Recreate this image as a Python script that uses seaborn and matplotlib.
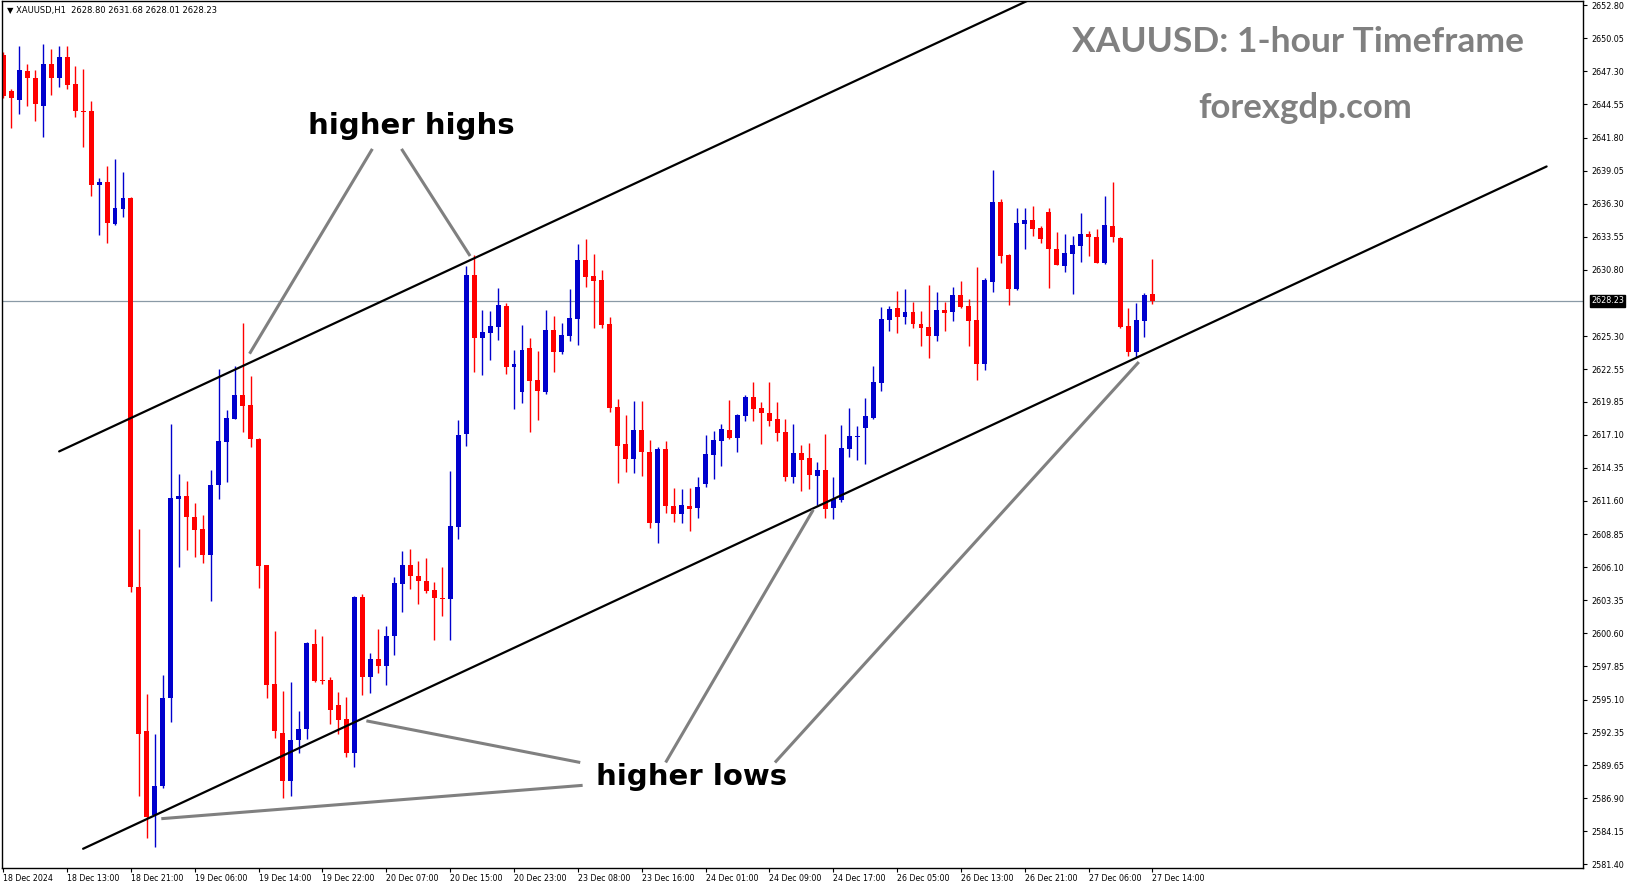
import matplotlib
matplotlib.use("Agg")
import matplotlib.pyplot as plt
import matplotlib.transforms as mtransforms
import numpy as np
import pandas as pd
import seaborn as sns

# XAUUSD H1 candles
open_ = [2648.70, 2645.63, 2644.96, 2647.30, 2646.72, 2644.46, 2647.89, 2646.72, 2648.48, 2646.22,
         2644.05, 2644.01, 2637.87, 2638.14, 2634.66, 2635.88, 2636.74, 2604.45, 2592.48, 2585.49,
         2587.93, 2595.21, 2611.80, 2611.98, 2610.31, 2609.24, 2607.10, 2612.93, 2616.50, 2618.43,
         2620.39, 2619.56, 2616.76, 2606.24, 2596.43, 2592.33, 2588.37, 2591.73, 2592.62, 2599.72,
         2596.70, 2596.70, 2594.62, 2593.51, 2590.64, 2603.62, 2596.95, 2598.45, 2597.91, 2600.36,
         2604.67, 2606.26, 2605.37, 2604.92, 2604.19, 2603.58, 2603.49, 2609.45, 2617.16, 2630.38,
         2625.11, 2625.59, 2626.08, 2627.80, 2622.76, 2620.68, 2624.31, 2621.65, 2620.68, 2625.81,
         2624.01, 2625.34, 2626.75, 2631.62, 2630.30, 2629.96, 2626.31, 2619.38, 2616.33, 2615.06,
         2617.50, 2615.67, 2609.80, 2615.92, 2611.21, 2610.49, 2611.18, 2611.04, 2613.01, 2615.45,
         2616.61, 2617.50, 2616.86, 2618.69, 2620.24, 2619.33, 2618.94, 2618.41, 2617.33, 2613.62,
         2615.61, 2615.17, 2613.70, 2614.17, 2611.04, 2611.71, 2615.89, 2616.89, 2617.69, 2618.52,
         2621.43, 2626.64, 2627.61, 2626.91, 2627.30, 2626.31, 2626.03, 2625.34, 2627.47, 2627.33,
         2628.71, 2627.80, 2626.64, 2622.98, 2629.82, 2636.44, 2632.04, 2629.24, 2634.64, 2634.95,
         2634.28, 2635.61, 2632.54, 2631.15, 2632.12, 2632.82, 2633.78, 2633.51, 2631.40, 2634.45,
         2633.45, 2626.17, 2624.01, 2626.58, 2628.80]
high = [2648.93, 2645.86, 2649.38, 2647.89, 2647.40, 2649.56, 2649.16, 2649.38, 2649.38, 2647.71,
        2647.49, 2644.82, 2638.41, 2639.45, 2640.00, 2638.91, 2636.83, 2609.28, 2595.60, 2592.27,
        2597.17, 2618.04, 2613.88, 2613.23, 2611.44, 2610.40, 2614.15, 2622.59, 2619.17, 2622.80,
        2626.40, 2622.00, 2616.80, 2606.30, 2600.83, 2595.84, 2596.58, 2594.17, 2599.91, 2601.00,
        2600.36, 2596.95, 2595.74, 2595.33, 2603.71, 2603.87, 2598.99, 2601.00, 2601.22, 2605.30,
        2607.47, 2607.60, 2606.58, 2606.83, 2604.83, 2606.10, 2614.07, 2618.37, 2631.15, 2632.04,
        2627.47, 2627.39, 2629.30, 2628.02, 2624.15, 2626.22, 2625.17, 2624.06, 2627.47, 2626.97,
        2626.42, 2629.21, 2632.95, 2633.37, 2632.12, 2630.79, 2626.86, 2620.07, 2618.74, 2619.91,
        2619.91, 2616.67, 2616.06, 2616.58, 2612.68, 2612.59, 2612.68, 2613.62, 2617.08, 2617.44,
        2617.99, 2619.99, 2618.80, 2620.41, 2621.49, 2619.83, 2621.49, 2619.83, 2618.41, 2618.00,
        2616.25, 2616.45, 2614.87, 2617.16, 2613.59, 2617.94, 2619.35, 2617.86, 2620.18, 2622.81,
        2627.75, 2627.83, 2629.05, 2629.21, 2628.16, 2627.39, 2629.55, 2628.94, 2628.14, 2629.38,
        2629.88, 2628.38, 2631.04, 2630.13, 2639.10, 2636.69, 2632.12, 2635.92, 2635.92, 2636.11,
        2634.45, 2635.92, 2633.95, 2633.78, 2633.62, 2635.56, 2634.06, 2634.20, 2636.97, 2638.13,
        2633.50, 2627.66, 2628.05, 2628.91, 2631.68]
low = [2645.09, 2642.61, 2643.74, 2644.41, 2643.20, 2641.89, 2645.36, 2646.04, 2645.86, 2643.47,
       2641.03, 2636.96, 2633.67, 2633.03, 2634.57, 2635.16, 2604.00, 2587.06, 2583.56, 2582.81,
       2587.72, 2593.22, 2606.15, 2607.49, 2606.95, 2606.45, 2603.27, 2611.77, 2613.14, 2618.43,
       2617.30, 2616.11, 2604.37, 2595.24, 2591.88, 2586.89, 2587.10, 2590.69, 2591.79, 2596.53,
       2596.38, 2593.03, 2592.23, 2590.32, 2589.46, 2595.49, 2595.68, 2597.33, 2596.31, 2598.83,
       2602.37, 2604.28, 2603.07, 2603.96, 2600.04, 2602.05, 2600.04, 2608.43, 2616.21, 2622.35,
       2622.07, 2623.31, 2624.98, 2622.15, 2619.27, 2619.77, 2617.30, 2618.33, 2620.46, 2622.35,
       2623.81, 2624.92, 2624.56, 2629.41, 2626.00, 2625.95, 2619.02, 2613.07, 2614.04, 2613.95,
       2613.70, 2609.38, 2608.13, 2610.63, 2609.88, 2609.74, 2609.13, 2610.21, 2612.79, 2613.45,
       2614.53, 2616.72, 2615.70, 2618.27, 2618.27, 2616.36, 2617.86, 2616.61, 2613.29, 2613.12,
       2612.46, 2612.59, 2611.26, 2610.21, 2610.13, 2611.54, 2615.22, 2615.00, 2614.67, 2618.45,
       2620.77, 2625.72, 2625.59, 2626.31, 2625.97, 2624.50, 2623.51, 2624.92, 2625.72, 2626.58,
       2627.66, 2624.48, 2621.65, 2622.48, 2628.99, 2631.40, 2627.88, 2629.13, 2632.57, 2633.62,
       2633.04, 2629.33, 2631.20, 2630.65, 2628.80, 2631.49, 2631.98, 2631.35, 2631.32, 2633.15,
       2626.00, 2623.67, 2623.59, 2625.25, 2628.01]
close = [2645.23, 2645.05, 2647.40, 2646.72, 2644.55, 2647.89, 2646.72, 2648.48, 2646.18, 2644.05,
         2643.96, 2637.87, 2638.14, 2634.71, 2635.92, 2636.74, 2604.45, 2592.26, 2585.34, 2587.93,
         2595.21, 2611.86, 2611.98, 2610.25, 2609.18, 2607.10, 2612.90, 2616.56, 2618.49, 2620.39,
         2619.50, 2616.76, 2606.18, 2596.34, 2592.45, 2588.37, 2591.73, 2592.68, 2599.76, 2596.63,
         2596.63, 2594.21, 2593.41, 2590.64, 2603.62, 2596.95, 2598.45, 2597.91, 2600.36, 2604.79,
         2606.26, 2605.37, 2604.92, 2604.15, 2603.55, 2603.49, 2609.54, 2617.10, 2630.38, 2625.11,
         2625.64, 2626.14, 2627.88, 2622.76, 2622.98, 2624.15, 2621.60, 2620.77, 2625.81, 2624.01,
         2625.36, 2626.78, 2631.62, 2630.24, 2629.91, 2626.22, 2619.35, 2616.20, 2615.06, 2617.50,
         2615.70, 2609.80, 2615.92, 2611.21, 2610.49, 2611.26, 2610.96, 2612.79, 2615.50, 2616.67,
         2617.58, 2616.86, 2618.74, 2620.24, 2619.27, 2618.94, 2618.27, 2617.28, 2613.62, 2615.61,
         2615.00, 2613.76, 2614.17, 2610.96, 2611.79, 2615.97, 2617.00, 2617.00, 2618.69, 2621.51,
         2626.72, 2627.55, 2626.91, 2627.27, 2626.31, 2626.00, 2625.34, 2627.44, 2627.25, 2628.71,
         2627.75, 2626.55, 2622.98, 2629.96, 2636.44, 2631.96, 2629.24, 2634.70, 2634.95, 2634.23,
         2633.40, 2632.57, 2631.24, 2632.18, 2632.87, 2633.78, 2633.56, 2631.40, 2634.53, 2633.51,
         2626.09, 2624.01, 2626.64, 2628.72, 2628.23]

time_labels = ["18 Dec 2024", "18 Dec 13:00", "18 Dec 21:00", "19 Dec 06:00", "19 Dec 14:00",
               "19 Dec 22:00", "20 Dec 07:00", "20 Dec 15:00", "20 Dec 23:00", "23 Dec 08:00",
               "23 Dec 16:00", "24 Dec 01:00", "24 Dec 09:00", "24 Dec 17:00", "26 Dec 05:00",
               "26 Dec 13:00", "26 Dec 21:00", "27 Dec 06:00", "27 Dec 14:00"]
price_ticks = [2652.80, 2650.05, 2647.30, 2644.55, 2641.80, 2639.05, 2636.30, 2633.55, 2630.80,
               2625.30, 2622.55, 2619.85, 2617.10, 2614.35, 2611.60, 2608.85, 2606.10, 2603.35,
               2600.60, 2597.85, 2595.10, 2592.35, 2589.65, 2586.90, 2584.15, 2581.40]
last_price = 2628.23

# channel lines (bar index, price)
upper_channel = [(7.0, 2615.72), (130.0, 2653.68)]
lower_channel = [(10.0, 2582.70), (193.4, 2639.40)]

# annotation pointer lines (bar index, price)
highs_pointers = [[(46.25, 2640.86), (30.86, 2623.84)], [(49.9, 2640.86), (58.5, 2631.96)]]
lows_pointers = [[(72.6, 2587.97), (19.8, 2585.20)], [(72.3, 2589.87), (45.5, 2593.33)],
                 [(83.0, 2589.87), (101.5, 2610.87)], [(96.7, 2589.87), (142.3, 2623.15)]]

sns.set_style("white")
plt.rcParams['font.family'] = ['DejaVu Sans']
plt.rcParams['text.color'] = 'black'
plt.rcParams['xtick.color'] = 'black'
plt.rcParams['ytick.color'] = 'black'

df = pd.DataFrame({'open': open_, 'high': high, 'low': low, 'close': close})
df['bar'] = np.arange(len(df))
df['color'] = np.where(df.close >= df.open, '#0000CD', '#FF0000')

fig = plt.figure(figsize=(16.31, 8.88), dpi=100)
ax = fig.add_axes([0.00104, 0.02196, 0.96953, 0.97691])

# wicks and bodies
ax.vlines(df.bar, df.low, df.high, colors=df.color, linewidth=1.0)
body = np.maximum((df.close - df.open).abs(), 0.09)
ax.bar(df.bar, body, bottom=np.minimum(df.open, df.close), width=0.62,
       color=df.color, linewidth=0)

# current price line
ax.axhline(last_price, color='#8A9AA6', linewidth=0.9, zorder=0)

# channel
for pts in [upper_channel, lower_channel]:
    line = pd.DataFrame(pts, columns=['x', 'y'])
    sns.lineplot(data=line, x='x', y='y', color='black', linewidth=1.6, ax=ax,
                 estimator=None, sort=False)

for seg in highs_pointers + lows_pointers:
    (x0, y0), (x1, y1) = seg
    ax.plot([x0, x1], [y0, y1], color='#808080', linewidth=2.2, solid_capstyle='butt')

ax.text(51.1, 2642.8, "higher highs", fontsize=21, fontweight='bold', color='black',
        ha='center', va='center')
ax.text(86.3, 2588.66, "higher lows", fontsize=21, fontweight='bold', color='black',
        ha='center', va='center')

ax.set_xlim(-0.2, 197.96)
ax.set_ylim(2581.06, 2653.15)
ax.set_xlabel('')
ax.set_ylabel('')

ax.set_xticks(np.arange(0, len(time_labels) * 8, 8))
ax.set_xticklabels(time_labels, fontsize=5.7, ha='left')
ax.yaxis.tick_right()
ax.set_yticks(price_ticks)
ax.set_yticklabels([f"{p:.2f}" for p in price_ticks], fontsize=5.8)
ax.tick_params(axis='x', direction='out', length=3, width=0.8, pad=1, bottom=True)
ax.tick_params(axis='y', direction='out', length=3, width=0.8, pad=3, right=True, left=False)

for s in ax.spines.values():
    s.set_color('black')
    s.set_linewidth(1.0)

# current price tag on the price scale
trans = mtransforms.blended_transform_factory(fig.transFigure, ax.transData)
ax.text(1591 / 1631, last_price, f"{last_price:.2f}", transform=trans, fontsize=5.8,
        color='white', va='center', ha='left', clip_on=False,
        bbox=dict(boxstyle='square,pad=0.15', fc='black', ec='black'))

fig.text(0.0045, 0.9885, "\u25BC XAUUSD,H1  2628.80 2631.68 2628.01 2628.23", fontsize=6,
         va='center', ha='left', color='black')
fig.text(0.7958, 0.9530, "XAUUSD: 1-hour Timeframe", fontsize=25.5, fontweight='bold',
         color='#808080', family='Lato', ha='center', va='center')
fig.text(0.8001, 0.8782, "forexgdp.com", fontsize=25, fontweight='bold',
         color='#808080', family='Lato', ha='center', va='center')

fig.savefig('out.png', dpi=100, facecolor='white')
